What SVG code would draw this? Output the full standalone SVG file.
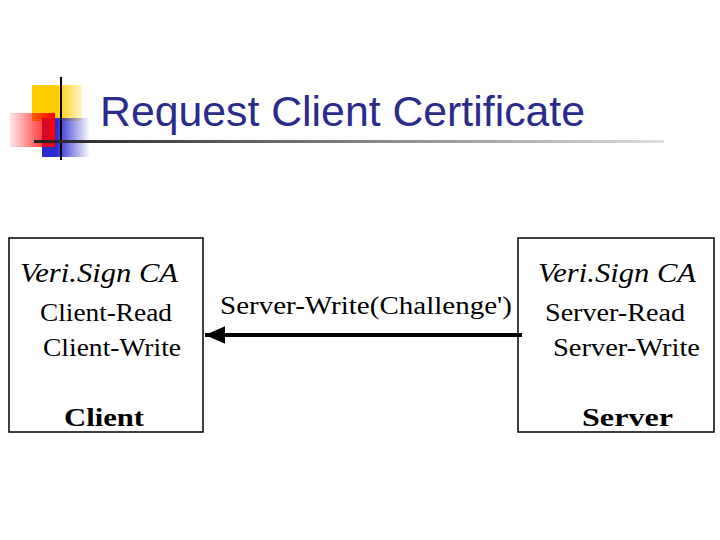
<svg xmlns="http://www.w3.org/2000/svg" width="720" height="540" viewBox="0 0 720 540">
<defs>
<linearGradient id="red" x1="1" y1="0" x2="0" y2="0"><stop offset="0" stop-color="#ff0000"/><stop offset="1" stop-color="#ff0000" stop-opacity="0.1"/></linearGradient>
<linearGradient id="blue" x1="0" y1="0" x2="1" y2="0"><stop offset="0.3" stop-color="#2a2ad0"/><stop offset="1" stop-color="#2a2ad0" stop-opacity="0"/></linearGradient>
<linearGradient id="yel" x1="0" y1="0" x2="1" y2="0"><stop offset="0.5" stop-color="#ffcc00"/><stop offset="1" stop-color="#ffcc00" stop-opacity="0.2"/></linearGradient>
<linearGradient id="rule" x1="0" y1="0" x2="1" y2="0"><stop offset="0" stop-color="#222"/><stop offset="1" stop-color="#ddd"/></linearGradient>
<marker id="ah" markerWidth="5" markerHeight="4.4" refX="5" refY="2.2" orient="auto" markerUnits="strokeWidth"><path d="M0,0 L5,2.2 L0,4.4 Z" fill="#000"/></marker>
<style>
.box{fill:#fff;stroke:#000;stroke-width:1.5}
.it{font-family:"Liberation Serif",serif;font-style:italic;font-size:28px}
.t{font-family:"Liberation Serif",serif;font-size:25px}
.b{font-family:"Liberation Serif",serif;font-weight:bold;font-size:26px}
</style>
</defs>
<g id="logo">
<rect x="32" y="85" width="50" height="36" fill="url(#yel)"/>
<rect x="42" y="118" width="48" height="39" fill="url(#blue)"/>
<rect x="10" y="113" width="45" height="34" fill="url(#red)"/>
<line x1="61" y1="77" x2="61" y2="160" stroke="#000" stroke-width="2"/>
<rect x="34" y="140" width="630" height="3" fill="url(#rule)"/>
</g>
<text x="100" y="126" font-family="Liberation Sans,Arial,sans-serif" font-size="42" fill="#2b2b8c" textLength="485" lengthAdjust="spacingAndGlyphs">Request Client Certificate</text>
<g id="client">
<rect class="box" x="9" y="238" width="194" height="194"/>
<text class="it" x="20" y="282" textLength="158" lengthAdjust="spacingAndGlyphs">Veri.Sign CA</text>
<text class="t" x="40" y="321" textLength="132" lengthAdjust="spacingAndGlyphs">Client-Read</text>
<text class="t" x="43" y="356" textLength="138" lengthAdjust="spacingAndGlyphs">Client-Write</text>
<text class="b" x="64" y="426" textLength="80" lengthAdjust="spacingAndGlyphs">Client</text>
</g>
<g id="server">
<rect class="box" x="518" y="238" width="196" height="194"/>
<text class="it" x="538" y="282" textLength="158" lengthAdjust="spacingAndGlyphs">Veri.Sign CA</text>
<text class="t" x="545" y="321" textLength="140" lengthAdjust="spacingAndGlyphs">Server-Read</text>
<text class="t" x="553" y="356" textLength="147" lengthAdjust="spacingAndGlyphs">Server-Write</text>
<text class="b" x="582" y="426" textLength="91" lengthAdjust="spacingAndGlyphs">Server</text>
</g>
<g id="connectors">
<line x1="522" y1="335" x2="205" y2="335" stroke="#000" stroke-width="4" marker-end="url(#ah)"/>
<text class="t" x="220" y="314" textLength="292" lengthAdjust="spacingAndGlyphs">Server-Write(Challenge')</text>
</g>
</svg>
